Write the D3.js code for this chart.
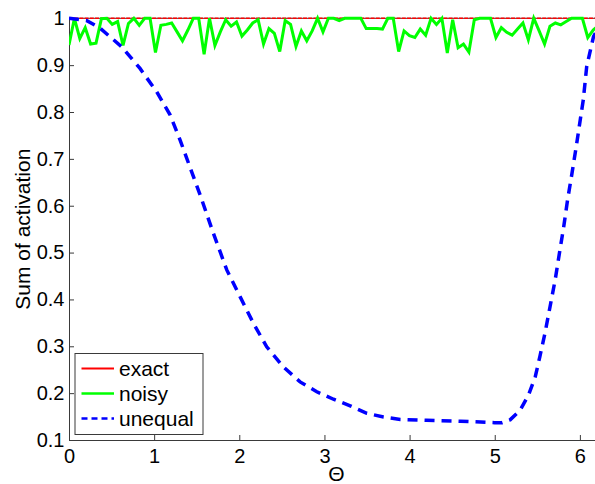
<!DOCTYPE html>
<html>
<head>
<meta charset="utf-8">
<script src="https://cdn.jsdelivr.net/npm/d3@7"></script>
<style>
  html, body { margin: 0; padding: 0; background: #fff; }
  svg { display: block; }
  text { font-family: "Liberation Sans", Arial, Helvetica, sans-serif; fill: #000; }
</style>
</head>
<body>
<svg id="chart" width="595" height="484"></svg>
<script>
// ---- data ----
const xTicks = [0, 1, 2, 3, 4, 5, 6];
const yTicks = [0.1, 0.2, 0.3, 0.4, 0.5, 0.6, 0.7, 0.8, 0.9, 1];
const yTickLabels = ["0.1", "0.2", "0.3", "0.4", "0.5", "0.6", "0.7", "0.8", "0.9", "1"];
const seriesNames = ["exact", "noisy", "unequal"];
const seriesColors = ["#ff0000", "#00ff00", "#0000ff"];

// theta grid (100 samples over [0, 2π])
const thetaSamples = d3.range(100).map(i => i * 2 * Math.PI / 99);

const exactValues = thetaSamples.map(() => 1);

const noisyValues = [
  0.943, 1.0, 0.957, 0.980, 0.945, 0.947, 0.999, 1.0, 0.987, 0.993,
  0.942, 0.989, 1.0, 0.985, 1.0, 1.0, 0.927, 0.985, 0.987, 0.990,
  0.971, 0.952, 0.975, 1.0, 1.0, 0.923, 1.0, 0.942, 0.971, 0.997,
  0.983, 0.992, 0.962, 0.975, 0.990, 0.997, 0.945, 0.978, 0.968, 0.929,
  0.995, 0.987, 0.940, 0.973, 0.952, 0.973, 1.0, 0.971, 1.0, 1.0,
  0.995, 1.0, 1.0, 1.0, 1.0, 0.978, 0.978, 0.978, 0.977, 1.0,
  1.0, 0.929, 0.973, 0.963, 0.959, 0.977, 0.964, 1.0, 0.987, 1.0,
  0.926, 0.997, 0.937, 0.945, 0.928, 0.997, 1.0, 1.0, 1.0, 0.959,
  0.980, 0.970, 0.964, 0.977, 0.990, 0.954, 1.0, 0.973, 0.945, 0.983,
  0.990, 0.986, 0.993, 1.0, 1.0, 1.0, 0.959, 0.975, 0.985, 1.0
];

const unequalTheta = [
  0, 0.21, 0.364, 0.62, 0.834, 1.03, 1.187, 1.305, 1.54, 1.696,
  1.853, 2.009, 2.166, 2.322, 2.518, 2.714, 2.91, 3.106, 3.302, 3.498,
  3.694, 3.89, 4.2, 4.6, 5.0, 5.085, 5.18, 5.3, 5.397, 5.476,
  5.53, 5.59, 5.65, 5.71, 5.76, 5.81, 5.855, 5.907, 5.957, 6.004,
  6.04, 6.08, 6.16, 6.283
];
const unequalValues = [
  1.0, 0.995, 0.979, 0.939, 0.893, 0.843, 0.794, 0.74, 0.623, 0.541,
  0.463, 0.406, 0.349, 0.299, 0.256, 0.224, 0.203, 0.187, 0.173, 0.157,
  0.149, 0.144, 0.142, 0.140, 0.137, 0.137, 0.143, 0.164, 0.196, 0.235,
  0.278, 0.328, 0.385, 0.442, 0.499, 0.555, 0.612, 0.669, 0.726, 0.783,
  0.826, 0.897, 0.961, 1.0
];

// ---- drawing ----
const svg = d3.select("#chart");
svg.append("rect").attr("width", 595).attr("height", 484).attr("fill", "#fff");

const x = d3.scaleLinear().domain([0, 2 * Math.PI]).range([69, 604]);
const y = d3.scaleLinear().domain([0.1, 1]).range([440, 18.3]);

svg.append("defs").append("clipPath").attr("id", "plotClip")
  .append("rect").attr("x", 69).attr("y", 10).attr("width", 540).attr("height", 432);

const axisColor = "#3a3a3a";
const fontSize = 20;

// top box line (hidden under the red line)
svg.append("line").attr("x1", x(0)).attr("x2", x(2 * Math.PI))
  .attr("y1", y(1)).attr("y2", y(1)).attr("stroke", axisColor).attr("stroke-width", 1);

// X axis
const gx = svg.append("g").attr("transform", `translate(0,${y(0.1)})`)
  .call(d3.axisBottom(x).tickValues(xTicks).tickFormat(d3.format("d"))
    .tickSizeInner(-5).tickSizeOuter(0).tickPadding(9));
// Y axis
const gy = svg.append("g").attr("transform", `translate(${x(0)},0)`)
  .call(d3.axisLeft(y).tickValues(yTicks).tickFormat((d, i) => yTickLabels[i])
    .tickSizeInner(-5).tickSizeOuter(0).tickPadding(4.5));

[gx, gy].forEach(g => {
  g.select(".domain").attr("stroke", axisColor).attr("stroke-width", 1);
  g.selectAll(".tick line").attr("stroke", axisColor).attr("stroke-width", 1);
  g.selectAll(".tick text").attr("font-size", fontSize)
    .attr("font-family", "'Liberation Sans', Arial, sans-serif").attr("fill", "#000");
});

// axis labels
svg.append("text").attr("x", x(Math.PI)).attr("y", 481)
  .attr("text-anchor", "middle").attr("font-size", 21).text("Θ");
svg.append("text")
  .attr("transform", `translate(30,${(y(0.1) + y(1)) / 2}) rotate(-90)`)
  .attr("text-anchor", "middle").attr("font-size", 21).text("Sum of activation");

const plot = svg.append("g").attr("clip-path", "url(#plotClip)");

const line = d3.line().x(d => x(d[0])).y(d => y(d[1]));

// exact
plot.append("path")
  .datum(thetaSamples.map((t, i) => [t, exactValues[i]]))
  .attr("d", line).attr("fill", "none").attr("stroke", seriesColors[0])
  .attr("stroke-width", 1.5).attr("stroke-dasharray", "4,1.2");

// noisy
plot.append("path")
  .datum(thetaSamples.map((t, i) => [t, noisyValues[i]]))
  .attr("d", line).attr("fill", "none").attr("stroke", seriesColors[1])
  .attr("stroke-width", 3).attr("stroke-linejoin", "miter");

// unequal
plot.append("path")
  .datum(unequalTheta.map((t, i) => [t, unequalValues[i]]))
  .attr("d", line).attr("fill", "none").attr("stroke", seriesColors[2])
  .attr("stroke-width", 3.5).attr("stroke-dasharray", "10,7");

// legend
const lg = svg.append("g");
lg.append("rect").attr("x", 75).attr("y", 353.5).attr("width", 128).attr("height", 81)
  .attr("fill", "#fff").attr("stroke", axisColor).attr("stroke-width", 1);
const legendY = [368.5, 393.5, 418.5];
const legendWidths = [2, 2.5, 2.5];
const legendDash = [null, null, "6,4"];
seriesNames.forEach((name, i) => {
  lg.append("line").attr("x1", 81.5).attr("x2", 114).attr("y1", legendY[i]).attr("y2", legendY[i])
    .attr("stroke", seriesColors[i]).attr("stroke-width", legendWidths[i])
    .attr("stroke-dasharray", legendDash[i]);
  lg.append("text").attr("x", 119).attr("y", legendY[i] + 7)
    .attr("font-size", 21).text(name);
});
</script>
</body>
</html>
